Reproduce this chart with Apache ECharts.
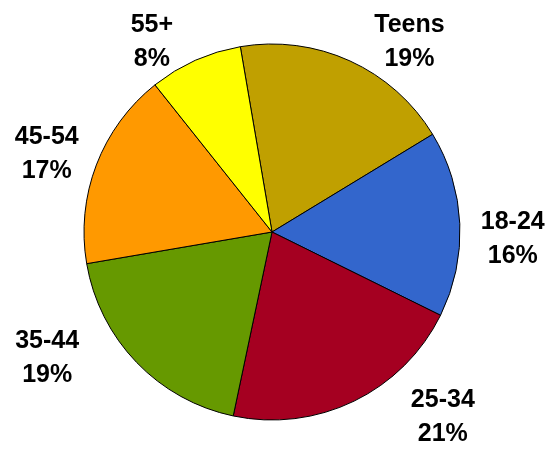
<!DOCTYPE html>
<html>
<head>
<meta charset="utf-8">
<script src="https://cdn.jsdelivr.net/npm/echarts@6/dist/echarts.min.js"></script>
<style>
  html, body { margin: 0; padding: 0; background: #fff; }
  #main { width: 550px; height: 449px; }
</style>
</head>
<body>
<div id="main"></div>
<script>
  // age groups, clockwise from the top
  var groups = ['Teens', '18-24', '25-34', '35-44', '45-54', '55+'];
  var shares = [19, 16, 21, 19, 17, 8];
  var colors = ['#C0A000', '#3366CC', '#A50021', '#669900', '#FF9900', '#FFFF00'];

  // small label nudges (px) so the labels sit like the original
  var labelShift = [[3, -1], [-12, 16], [35, -2], [-30, -18], [14, -4], [-1, 0]];

  var pieData = groups.map(function (g, i) {
    return { name: g, value: shares[i], itemStyle: { color: colors[i] } };
  });

  var chart = echarts.init(document.getElementById('main'));
  chart.setOption({
    animation: false,
    series: [{
      type: 'pie',
      center: [272, 232],
      radius: 188,
      startAngle: 99.7,
      clockwise: true,
      avoidLabelOverlap: false,
      itemStyle: { borderColor: '#000', borderWidth: 1 },
      label: {
        show: true,
        position: 'outside',
        formatter: function (p) {
          return '{t|' + p.name + '}\n{t|' + p.value + '%}';
        },
        rich: {
          t: {
            fontFamily: 'Liberation Sans, Arial, sans-serif',
            fontWeight: 'bold',
            fontSize: 25,
            lineHeight: 34,
            color: '#000',
            align: 'center'
          }
        }
      },
      labelLine: { show: false, length: 20, length2: 8 },
      labelLayout: function (p) {
        var s = labelShift[p.dataIndex];
        return { dx: s[0], dy: s[1] };
      },
      data: pieData
    }]
  });
</script>
</body>
</html>
